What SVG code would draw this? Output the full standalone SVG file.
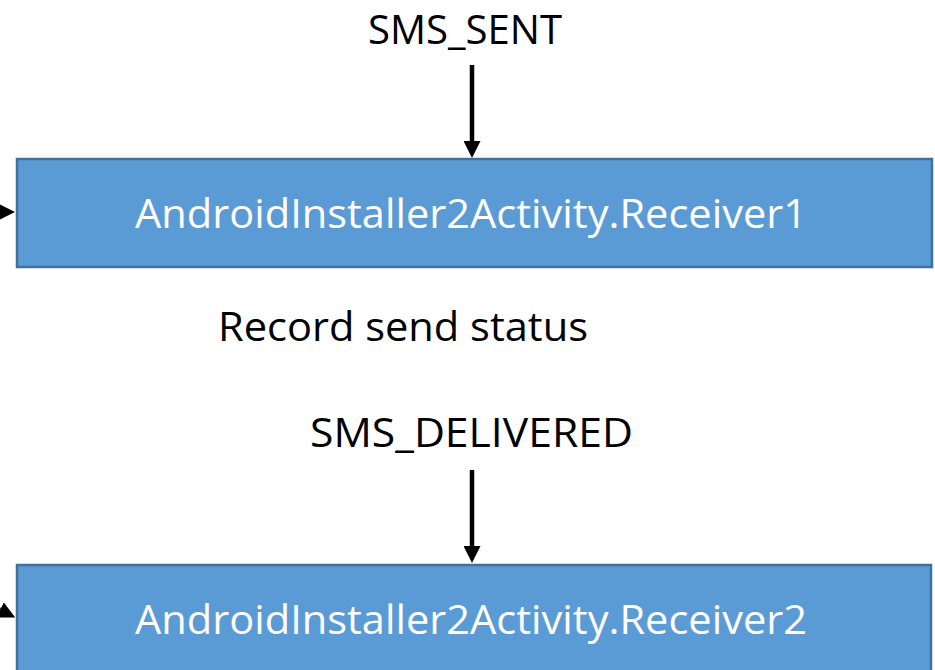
<svg xmlns="http://www.w3.org/2000/svg" width="935" height="670" viewBox="0 0 935 670">
<style>
.box{fill:#5B9BD5;stroke:#41719C;stroke-width:2.5}
.lbl{font-family:"Open Sans","Liberation Sans",sans-serif;font-size:41px;text-anchor:middle}
.dark{fill:#000}
.light{fill:#fff}
.conn{stroke:#000;stroke-width:4.5;fill:none}
</style>
<defs>
<marker id="ah" markerUnits="userSpaceOnUse" markerWidth="17" markerHeight="17" viewBox="0 0 10 10" refX="0" refY="5" orient="auto">
<path d="M0,0 L10,5 L0,10 z" fill="#000"/>
</marker>
</defs>
<rect width="935" height="670" fill="#fff"/>
<g id="connectors">
<line class="conn" x1="472" y1="65" x2="472" y2="141" marker-end="url(#ah)"/>
<line class="conn" x1="472" y1="470" x2="472" y2="546" marker-end="url(#ah)"/>
<line class="conn" x1="-30" y1="212" x2="-2" y2="212" marker-end="url(#ah)"/>
<line class="conn" x1="-40" y1="590" x2="0" y2="610" marker-end="url(#ah)"/>
</g>
<g id="label-sms-sent">
<text class="lbl dark" x="465" y="44" textLength="194" lengthAdjust="spacingAndGlyphs">SMS_SENT</text>
</g>
<g id="receiver1">
<rect class="box" x="17" y="159" width="915" height="108"/>
<text class="lbl light" x="471" y="228" textLength="672" lengthAdjust="spacingAndGlyphs">AndroidInstaller2Activity.Receiver1</text>
</g>
<g id="label-record">
<text class="lbl dark" x="403" y="341" textLength="370" lengthAdjust="spacingAndGlyphs">Record send status</text>
</g>
<g id="label-sms-delivered">
<text class="lbl dark" x="471.5" y="447" textLength="323" lengthAdjust="spacingAndGlyphs">SMS_DELIVERED</text>
</g>
<g id="receiver2">
<rect class="box" x="17" y="565" width="914" height="120"/>
<text class="lbl light" x="471" y="634" textLength="672" lengthAdjust="spacingAndGlyphs">AndroidInstaller2Activity.Receiver2</text>
</g>
</svg>
